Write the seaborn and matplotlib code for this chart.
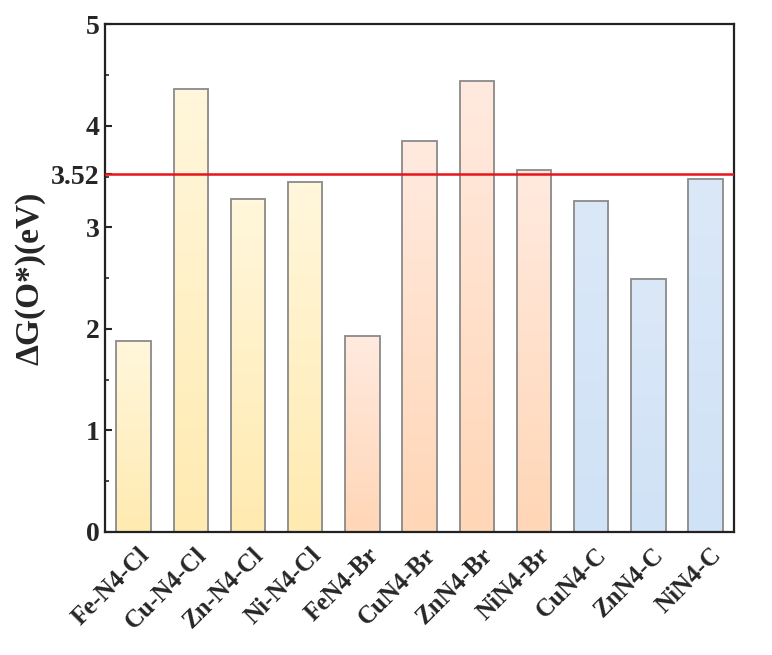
import numpy as np
import pandas as pd
import matplotlib
matplotlib.use("Agg")
import matplotlib.pyplot as plt
import matplotlib.transforms as mtransforms
import seaborn as sns
from matplotlib.colors import LinearSegmentedColormap

# dados
categorias = ["Fe-N4-Cl", "Cu-N4-Cl", "Zn-N4-Cl", "Ni-N4-Cl",
              "FeN4-Br", "CuN4-Br", "ZnN4-Br", "NiN4-Br",
              "CuN4-C", "ZnN4-C", "NiN4-C"]
valores = [1.88, 4.36, 3.28, 3.45, 1.93, 3.85, 4.44, 3.56, 3.26, 2.49, 3.48]
grupos = ["Cl"] * 4 + ["Br"] * 4 + ["C"] * 3
referencia = 3.52
yticks = [0, 1, 2, 3, 3.52, 4, 5]
ytick_labels = ["0", "1", "2", "3", "3.52", "4", "5"]

# cores do gradiente (topo, base)
gradientes = {
    "Cl": ("#fff7dc", "#ffeab0"),
    "Br": ("#ffeadf", "#ffd6b6"),
    "C": ("#dbe8f8", "#d0e2f6"),
}

df = pd.DataFrame({"cat": categorias, "val": valores, "grupo": grupos})

sns.set_style("ticks")
plt.rcParams["font.family"] = ["Liberation Serif", "DejaVu Serif"]
plt.rcParams["font.weight"] = "bold"

fig = plt.figure(figsize=(7.72, 6.55), dpi=100)
ax = fig.add_axes([0.136, 0.188, 0.815, 0.775])

sns.barplot(data=df, x="cat", y="val", hue="grupo", dodge=False, width=0.6,
            palette={"Cl": "#ffeebb", "Br": "#ffdfc8", "C": "#d5e5f7"},
            edgecolor="#8a8a8a", linewidth=1.3, legend=False, ax=ax)

# preencher as barras com gradiente vertical
for patch in ax.patches:
    h = patch.get_height()
    if h <= 0:
        continue
    x0 = patch.get_x()
    w = patch.get_width()
    idx = int(round(x0 + w / 2))
    topo, base = gradientes[grupos[idx]]
    cmap = LinearSegmentedColormap.from_list("g", [base, topo])
    grad = np.linspace(0, 1, 256).reshape(-1, 1)
    img = ax.imshow(grad, cmap=cmap, aspect="auto", origin="lower",
                    extent=[x0, x0 + w, 0, h], zorder=1.5)
    img.set_clip_path(patch)
    patch.set_facecolor("none")
    patch.set_zorder(2)

ax.axhline(referencia, color="#e8141c", linewidth=1.8, zorder=3)

ax.set_xlim(-0.5, 10.5)
ax.set_ylim(0, 5)
ax.set_yticks(yticks)
ax.set_yticklabels(ytick_labels)
ax.set_yticks(np.arange(0.5, 5, 1), minor=True)
ax.tick_params(axis="y", which="major", labelsize=20, length=5, width=1.5,
               direction="in", pad=4)
ax.tick_params(axis="y", which="minor", length=3, width=1.2, direction="in")
ax.tick_params(axis="x", which="major", labelsize=18, length=0, pad=8)
offset = mtransforms.ScaledTranslation(0.04, 0, fig.dpi_scale_trans)
for lab in ax.get_xticklabels():
    lab.set_rotation(45)
    lab.set_ha("right")
    lab.set_rotation_mode("anchor")
    lab.set_fontweight("bold")
    lab.set_transform(lab.get_transform() + offset)
for lab in ax.get_yticklabels():
    lab.set_fontweight("bold")

ax.set_xlabel("")
ax.set_ylabel("ΔG(O*)(eV)", fontsize=24, fontweight="bold", labelpad=4)

for s in ax.spines.values():
    s.set_visible(True)
    s.set_linewidth(1.6)
    s.set_color("#222222")

fig.savefig("out.png", dpi=100)
